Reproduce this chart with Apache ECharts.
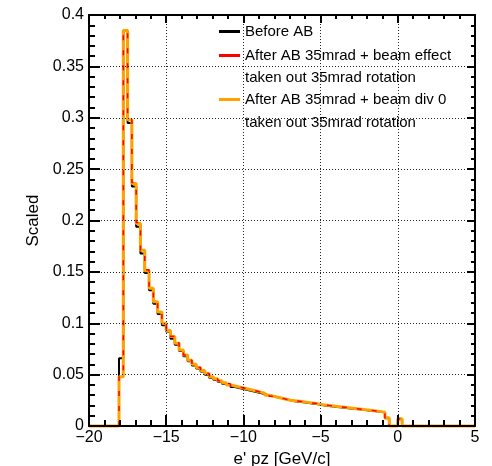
<!DOCTYPE html>
<html>
<head>
<meta charset="utf-8">
<script src="https://cdn.jsdelivr.net/npm/echarts@6/dist/echarts.min.js"></script>
<style>
html, body { margin: 0; padding: 0; background: #fff; }
#main { width: 492px; height: 466px; }
</style>
</head>
<body>
<div id="main"></div>
<script>
// histogram binning of e' pz
var xMin = -20, xMax = 5, nBins = 90;

var seriesNames = [
  'Before AB',
  'After AB 35mrad + beam effect',
  'After AB 35mrad + beam div 0'
];
var secondLines = ['taken out 35mrad rotation', 'taken out 35mrad rotation'];

var beforeAB = [
  0, 0, 0, 0, 0, 0, 0, 0.066, 0.385, 0.295,
  0.233, 0.194, 0.168, 0.149, 0.132, 0.119, 0.109, 0.098, 0.092, 0.085,
  0.079, 0.073, 0.068, 0.063, 0.059, 0.056, 0.053, 0.050, 0.047, 0.045,
  0.043, 0.041, 0.040, 0.038, 0.037, 0.036, 0.035, 0.034, 0.033, 0.032,
  0.031, 0.030, 0.029, 0.028, 0.027, 0.026, 0.025, 0.024, 0.0235, 0.023,
  0.0225, 0.022, 0.0215, 0.021, 0.020, 0.0195, 0.019, 0.0185, 0.018, 0.0175,
  0.017, 0.0168, 0.0162, 0.0157, 0.0152, 0.0148, 0.0143, 0.0138, 0.0133, 0.0075,
  0, 0, 0.0065, 0, 0, 0, 0, 0, 0, 0,
  0, 0, 0, 0, 0, 0, 0, 0, 0, 0
];
var beamEffect = [
  0, 0, 0, 0, 0, 0, 0, 0.048, 0.384, 0.298,
  0.237, 0.198, 0.171, 0.152, 0.134, 0.122, 0.111, 0.101, 0.093, 0.087,
  0.081, 0.075, 0.069, 0.064, 0.060, 0.057, 0.054, 0.051, 0.049, 0.046,
  0.044, 0.042, 0.041, 0.039, 0.038, 0.037, 0.036, 0.035, 0.034, 0.033,
  0.032, 0.031, 0.029, 0.028, 0.027, 0.026, 0.0255, 0.0245, 0.024, 0.0235,
  0.023, 0.0225, 0.022, 0.0212, 0.0205, 0.020, 0.0197, 0.019, 0.0185, 0.018,
  0.0177, 0.017, 0.0165, 0.016, 0.0157, 0.015, 0.0145, 0.014, 0.0137, 0.008,
  0, 0, 0.007, 0, 0, 0, 0, 0, 0, 0,
  0, 0, 0, 0, 0, 0, 0, 0, 0, 0
];
var beamDiv0 = [
  0, 0, 0, 0, 0, 0, 0, 0.048, 0.385, 0.298,
  0.236, 0.197, 0.171, 0.151, 0.134, 0.121, 0.111, 0.100, 0.093, 0.087,
  0.0805, 0.074, 0.069, 0.064, 0.060, 0.057, 0.054, 0.051, 0.048, 0.046,
  0.044, 0.042, 0.040, 0.039, 0.038, 0.037, 0.036, 0.035, 0.034, 0.033,
  0.032, 0.030, 0.029, 0.028, 0.027, 0.026, 0.025, 0.0245, 0.024, 0.0235,
  0.023, 0.0225, 0.022, 0.021, 0.0205, 0.020, 0.0195, 0.019, 0.0185, 0.018,
  0.0175, 0.017, 0.0165, 0.016, 0.0155, 0.015, 0.0145, 0.014, 0.0135, 0.008,
  0, 0, 0.007, 0, 0, 0, 0, 0, 0, 0,
  0, 0, 0, 0, 0, 0, 0, 0, 0, 0
];

var binWidth = (xMax - xMin) / nBins;
function histPoints(vals) {
  var pts = [];
  for (var i = 0; i < vals.length; i++) {
    pts.push([xMin + i * binWidth, vals[i]]);
  }
  pts.push([xMax, vals[vals.length - 1]]);
  return pts;
}

var FONT = 'Liberation Sans';
var chart = echarts.init(document.getElementById('main'), null, {renderer: 'canvas'});

function legendFor(name, top) {
  return {
    data: [name],
    left: 219,
    top: top,
    orient: 'vertical',
    padding: 0,
    icon: 'rect',
    itemWidth: 21,
    itemHeight: 3,
    selectedMode: false,
    textStyle: {fontFamily: FONT, fontSize: 15, color: '#000'}
  };
}

// frame axes: ROOT style ticks pointing into the pad
function frameAxis(pos, tickLen, minorLen, more) {
  var a = {
    position: pos,
    z: 5,
    axisLine: {show: true, onZero: false, lineStyle: {color: '#000', width: 2}},
    axisTick: {show: true, inside: true, length: tickLen, lineStyle: {color: '#000', width: 2}},
    minorTick: {show: true, splitNumber: 5, length: minorLen, lineStyle: {color: '#000', width: 2}},
    axisLabel: {show: false},
    splitLine: {show: false}
  };
  return Object.assign(a, more);
}

var gridLine = {show: true, lineStyle: {color: '#222', width: 1, type: [1, 2]}};

var option = {
  animation: false,
  backgroundColor: '#fff',
  grid: {left: 89, right: 17, top: 15, bottom: 40, containLabel: false, outerBoundsMode: 'none'},
  legend: [
    legendFor(seriesNames[0], 24),
    legendFor(seriesNames[1], 48),
    legendFor(seriesNames[2], 92)
  ],
  graphic: [
    {type: 'text', left: 245, top: 70, z: 10,
     style: {text: secondLines[0], font: '15px ' + FONT, fill: '#000'}},
    {type: 'text', left: 245, top: 115, z: 10,
     style: {text: secondLines[1], font: '15px ' + FONT, fill: '#000'}}
  ],
  xAxis: [
    frameAxis('bottom', 11, 6, {
      type: 'value', min: xMin, max: xMax, interval: 5,
      name: "e' pz [GeV/c]", nameLocation: 'middle', nameGap: 12,
      nameTextStyle: {fontFamily: FONT, fontSize: 17, color: '#000', verticalAlign: 'top'},
      splitLine: gridLine,
      axisLabel: {show: true, margin: 4, fontFamily: FONT, fontSize: 16, color: '#000',
        formatter: function (v) { return v < 0 ? '\u2212' + (-v) : String(v); }}
    }),
    frameAxis('top', 8, 4, {type: 'value', min: xMin, max: xMax, interval: 5})
  ],
  yAxis: [
    frameAxis('left', 11, 6, {
      type: 'value', min: 0, max: 0.4, interval: 0.05,
      name: 'Scaled', nameLocation: 'middle', nameGap: 36,
      nameTextStyle: {fontFamily: FONT, fontSize: 17, color: '#000'},
      splitLine: gridLine,
      axisLabel: {show: true, margin: 5, fontFamily: FONT, fontSize: 16, color: '#000'}
    }),
    frameAxis('right', 8, 4, {type: 'value', min: 0, max: 0.4, interval: 0.05})
  ],
  series: [
    {
      name: seriesNames[0], type: 'line', step: 'end', symbol: 'none', clip: false, z: 2,
      xAxisIndex: 0, yAxisIndex: 0,
      itemStyle: {color: '#000'},
      lineStyle: {color: '#000', width: 2},
      data: histPoints(beforeAB)
    },
    {
      name: seriesNames[1], type: 'line', step: 'end', symbol: 'none', clip: false, z: 4,
      xAxisIndex: 0, yAxisIndex: 0,
      itemStyle: {color: '#ff0000'},
      lineStyle: {color: '#ff0000', width: 1.5, type: [5, 10]},
      data: histPoints(beamEffect)
    },
    {
      name: seriesNames[2], type: 'line', step: 'end', symbol: 'none', clip: false, z: 3,
      xAxisIndex: 0, yAxisIndex: 0,
      itemStyle: {color: '#ffa200'},
      lineStyle: {color: '#ffa200', width: 3},
      data: histPoints(beamDiv0)
    }
  ]
};

chart.setOption(option);
</script>
</body>
</html>
